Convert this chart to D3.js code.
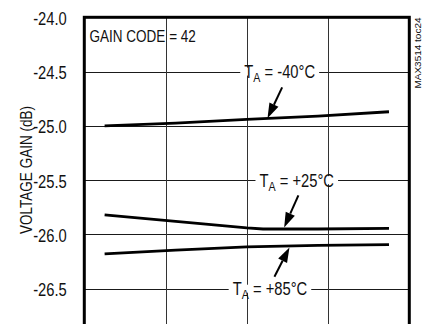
<!DOCTYPE html>
<html>
<head>
<meta charset="utf-8">
<script src="https://cdn.jsdelivr.net/npm/d3@7"></script>
<style>
  html, body { margin: 0; padding: 0; background: #fff; }
  svg { display: block; }
  text { font-family: "Liberation Sans", Arial, sans-serif; fill: #111; }
</style>
</head>
<body>
<script>
// Frequency points (MHz) shared by all three curves
const freq = [5, 22.5, 40, 57.5, 75];
const freq25 = [5, 22.5, 40, 44, 57.5, 75];

// Voltage gain (dB) per ambient temperature
const gainM40 = [-25.00, -24.975, -24.94, -24.91, -24.87];
const gainP25 = [-25.82, -25.88, -25.94, -25.95, -25.95, -25.945];
const gainP85 = [-26.18, -26.145, -26.115, -26.10, -26.093];

const yTicks = [-24.0, -24.5, -25.0, -25.5, -26.0, -26.5, -27.0];
const yLabels = ["-24.0", "-24.5", "-25.0", "-25.5", "-26.0", "-26.5"];
const xTicks = [0, 20, 40, 60, 80];

// Curve annotations: label anchor, arrow tail and arrow tip in data units
const notes = [
  { temp: "-40°C", lx: 48.1, ly: -24.5, tx: 48.7, ty: -24.645, hx: 45.1, hy: -24.93 },
  { temp: "+25°C", lx: 52.3, ly: -25.5, tx: 52.7, ty: -25.64, hx: 49.2, hy: -25.935 },
  { temp: "+85°C", lx: 45.7, ly: -26.5, tx: 46.8, ty: -26.39, hx: 50.5, hy: -26.12 }
];

const W = 422, H = 324;
const m = { left: 84.3, top: 17.3 };
const pw = 325, ph = 325.7;
const NARROW = 0.82; // horizontal squeeze for the condensed lettering

const svg = d3.select("body").append("svg").attr("width", W).attr("height", H);

const x = d3.scaleLinear().domain([0, 80]).range([m.left, m.left + pw]);
const y = d3.scaleLinear().domain([-24, -27]).range([m.top, m.top + ph]);

const g = svg.append("g");

// condensed text placed at (px, py)
function narrowText(parent, px, py, size, anchor, rot) {
  const grp = parent.append("g")
    .attr("transform", `translate(${px},${py})${rot ? ` rotate(${rot})` : ""} scale(${NARROW},1)`);
  return grp.append("text").attr("text-anchor", anchor || "start").style("font-size", size + "px");
}

// grid
g.append("g").selectAll("line").data(yTicks).join("line")
  .attr("x1", x(0)).attr("x2", x(80))
  .attr("y1", d => Math.round(y(d)) + 0.5).attr("y2", d => Math.round(y(d)) + 0.5)
  .attr("stroke", "#1a1a1a").attr("stroke-width", 1);
g.append("g").selectAll("line").data(xTicks).join("line")
  .attr("y1", y(-24)).attr("y2", y(-27))
  .attr("x1", d => Math.round(x(d)) + 0.5).attr("x2", d => Math.round(x(d)) + 0.5)
  .attr("stroke", "#333").attr("stroke-width", 1);

// y tick labels
yLabels.forEach((lab, i) => {
  narrowText(g, m.left - 17.5, y(yTicks[i]) + 7.5, 18, "end").text(lab);
});

// curves
const line = d3.line().x(d => x(d[0])).y(d => y(d[1]));
const series = [
  d3.zip(freq, gainM40),
  d3.zip(freq25, gainP25),
  d3.zip(freq, gainP85)
];
g.append("g").selectAll("path").data(series).join("path")
  .attr("d", line).attr("fill", "none").attr("stroke", "#000")
  .attr("stroke-width", 2.8).attr("stroke-linejoin", "round");

// annotations
const ann = g.append("g");
notes.forEach(n => {
  const grp = ann.append("g");
  const t = narrowText(grp, x(n.lx), y(n.ly) + 6.5, 18, "middle");
  t.append("tspan").text("T");
  t.append("tspan").text("A").style("font-size", "13px").attr("dy", "4");
  t.append("tspan").text(" = " + n.temp).attr("dy", "-4");
  const bb = t.node().getBBox();
  const wpx = bb.width * NARROW;
  grp.insert("rect", "g")
    .attr("x", x(n.lx) - wpx / 2 - 4).attr("y", y(n.ly) - 4)
    .attr("width", wpx + 8).attr("height", 8)
    .attr("fill", "#fff");

  // arrow shaft and head
  const x0 = x(n.tx), y0 = y(n.ty), x1 = x(n.hx), y1 = y(n.hy);
  const ang = Math.atan2(y1 - y0, x1 - x0);
  const L = 15, hw = 5;
  const bx = x1 - L * Math.cos(ang), by = y1 - L * Math.sin(ang);
  ann.append("line").attr("x1", x0).attr("y1", y0).attr("x2", bx).attr("y2", by)
    .attr("stroke", "#000").attr("stroke-width", 2);
  ann.append("path")
    .attr("d", `M${x1},${y1}L${bx + hw * Math.sin(ang)},${by - hw * Math.cos(ang)}L${bx - hw * Math.sin(ang)},${by + hw * Math.cos(ang)}Z`)
    .attr("fill", "#000");
});

// frame
g.append("rect").attr("x", m.left).attr("y", m.top).attr("width", pw).attr("height", ph)
  .attr("fill", "none").attr("stroke", "#000").attr("stroke-width", 3);

// texts
narrowText(g, 89.5, 42, 16.5, "start").text("GAIN CODE = 42");

narrowText(g, 32, 170, 16.5, "middle", -90).text("VOLTAGE GAIN (dB)");

g.append("text")
  .attr("transform", `translate(421,17.5) rotate(-90)`)
  .attr("text-anchor", "end").style("font-size", "9.5px")
  .attr("textLength", 71).attr("lengthAdjust", "spacingAndGlyphs")
  .text("MAX3514 toc24");
</script>
</body>
</html>
